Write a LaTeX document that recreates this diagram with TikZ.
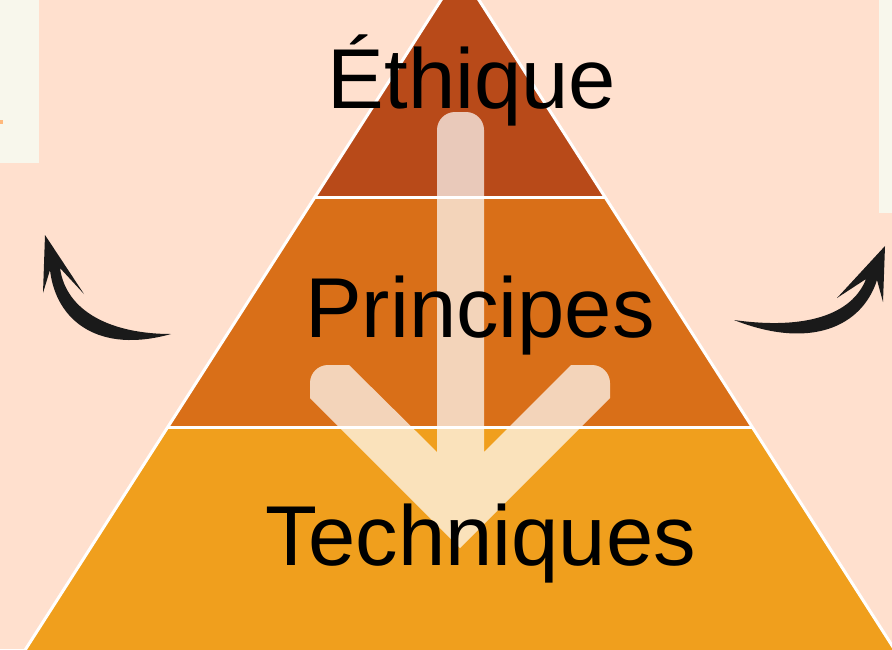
\documentclass[tikz,border=0pt]{standalone}
\usepackage{fontspec}
\setmainfont{Liberation Sans}
\definecolor{peach}{HTML}{FFE0CE}
\definecolor{cream}{HTML}{F8F7EC}
\definecolor{rust}{HTML}{B84A19}
\definecolor{ochre}{HTML}{D96F18}
\definecolor{amber}{HTML}{F09F1D}
\definecolor{inkblack}{HTML}{1A1A1A}
\begin{document}
\begin{tikzpicture}[x=1pt,y=-1pt,lbl/.style={inner sep=0pt,anchor=base,font=\fontsize{85}{100}\selectfont},brush/.style={fill=inkblack},sep/.style={draw=white,line width=3pt}]
\useasboundingbox (0,0) rectangle (892,649);
\clip (0,0) rectangle (892,649);
\fill[peach] (0,0) rectangle (892,649);
\fill[cream] (0,0) rectangle (39,163);
\fill[cream] (879,0) rectangle (892,213);
\fill[peach!60!orange] (0,120) rectangle (3,124);
% pyramid layers
\fill[rust] (460,-29.6) -- (605,197) -- (315,197) -- cycle;
\fill[ochre] (315,197) -- (605,197) -- (752.2,427) -- (167.8,427) -- cycle;
\fill[amber] (167.8,427) -- (752.2,427) -- (901.3,660) -- (18.7,660) -- cycle;
\draw[sep] (18.7,660) -- (460,-29.6) -- (901.3,660);
\draw[sep] (315,197) -- (605,197);
\draw[sep] (167.8,427) -- (752.2,427);
% big arrow
\fill[white,fill opacity=0.7] (460,548) -- (310,398) [rounded corners=18pt] -- (310,365) [sharp corners] -- (349,365) -- (437,452) [rounded corners=18pt] -- (437,112) -- (484,112) [sharp corners] -- (484,452) -- (571,365) [rounded corners=18pt] -- (610,365) [sharp corners] -- (610,398) -- cycle;
% labels
\node[lbl] (eth) at (472,108) {Éthique};
\node[lbl] (prin) at (480,337) {Principes};
\node[lbl] (tech) at (481,565) {Techniques};
% side arrows
\fill[brush] (45,235) -- (43,293) -- (50,270) .. controls (56,322) and (100,354) .. (171,334) .. controls (112,334) and (66,312) .. (60,268) -- (84,294) -- cycle;
\fill[brush] (885,246) -- (883,302) -- (877,280) .. controls (862,327) and (810,350) .. (734,320) .. controls (805,330) and (852,315) .. (866,279) -- (837,298) -- cycle;
\end{tikzpicture}
\end{document}
